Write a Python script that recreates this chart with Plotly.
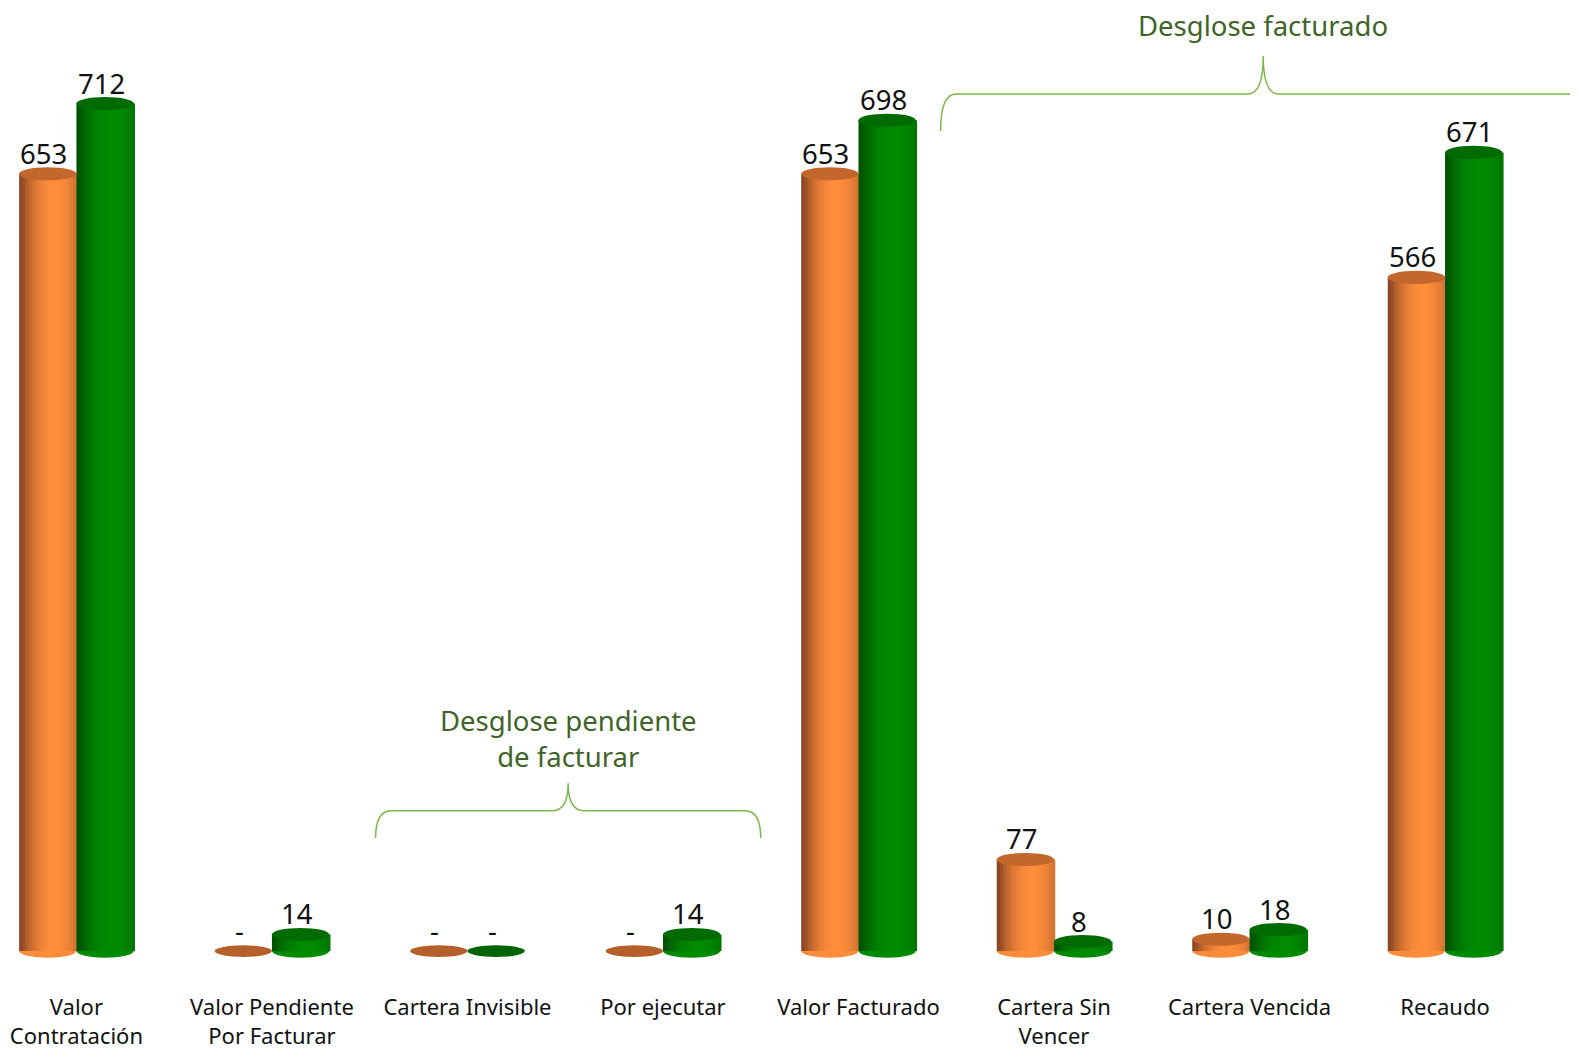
import plotly.graph_objects as go
import math

categories = ["Valor<br>Contratación", "Valor Pendiente<br>Por Facturar", "Cartera Invisible",
              "Por ejecutar", "Valor Facturado", "Cartera Sin<br>Vencer", "Cartera Vencida", "Recaudo"]
serie_naranja = [653, 0, 0, 0, 653, 77, 10, 566]
serie_verde = [712, 14, 0, 14, 698, 8, 18, 671]

FONT = "Noto Sans"
W = 0.293          # cylinder width (x units)
N = 18             # shading slices
EH = 5.5           # ellipse half height (y units)

series = [
    dict(vals=serie_naranja, side=-1, bright=(255, 142, 60), dark=(140, 72, 36),
         top="#c4672d", zero="#b5602a"),
    dict(vals=serie_verde, side=0, bright=(0, 140, 0), dark=(0, 84, 0),
         top="#006b00", zero="#006400"),
]

def shade(s, t):
    inten = max(0.0, math.cos((t - 0.62) * math.pi * 0.9))
    inten = inten ** 0.7
    c = [int(s["dark"][j] + (s["bright"][j] - s["dark"][j]) * inten) for j in range(3)]
    return "rgb(%d,%d,%d)" % tuple(c)

x = list(range(len(categories)))
fig = go.Figure()
shapes = []
annotations = []

for s in series:
    left = s["side"] * W
    for k in range(N):
        t = (k + 0.5) / N
        fig.add_trace(go.Bar(
            x=x, y=s["vals"], width=W / N * 1.4, offset=left + k * W / N,
            marker=dict(color=shade(s, t), line=dict(width=0)),
            showlegend=False, hoverinfo="skip"))
    for i, v in enumerate(s["vals"]):
        x0, x1 = i + left, i + left + W
        if v > 0:
            shapes.append(dict(type="circle", xref="x", yref="y", x0=x0, x1=x1,
                               y0=-EH, y1=EH, fillcolor=shade(s, 0.55),
                               line=dict(width=0), layer="below"))
            shapes.append(dict(type="circle", xref="x", yref="y", x0=x0, x1=x1,
                               y0=v - EH, y1=v + EH, fillcolor=s["top"],
                               line=dict(width=0), layer="above"))
        else:
            shapes.append(dict(type="circle", xref="x", yref="y", x0=x0, x1=x1,
                               y0=-EH * 0.9, y1=EH * 0.9, fillcolor=s["zero"],
                               line=dict(width=0), layer="above"))
        annotations.append(dict(x=(x0 + x1) / 2 - 0.02, y=v, xref="x", yref="y",
                                text=str(v) if v > 0 else "-", showarrow=False,
                                yanchor="bottom", yshift=0,
                                font=dict(family=FONT, size=27.5, color="#111111")))

def brace(xl, xr, xm, y_line, y_arm, y_peak, dx=0.08):
    return ("M %f,%f Q %f,%f %f,%f L %f,%f Q %f,%f %f,%f Q %f,%f %f,%f L %f,%f Q %f,%f %f,%f" % (
        xl, y_arm, xl, y_line, xl + dx, y_line,
        xm - dx, y_line, xm, y_line, xm, y_peak,
        xm, y_line, xm + dx, y_line,
        xr - dx, y_line, xr, y_line, xr, y_arm))

brace_color = "#7cb84a"
shapes.append(dict(type="path", xref="x", yref="y", path=brace(1.53, 3.5, 2.515, 118, 95, 141),
                   line=dict(color=brace_color, width=1.5)))
shapes.append(dict(type="path", xref="x", yref="y", path=brace(4.42, 7.8, 6.07, 720, 689, 752),
                   line=dict(color=brace_color, width=1.5)))

annotations.append(dict(x=2.515, y=179, xref="x", yref="y", text="Desglose pendiente<br>de facturar",
                        showarrow=False, font=dict(family=FONT, size=27.5, color="#3f6428")))
annotations.append(dict(x=6.07, y=778, xref="x", yref="y", text="Desglose facturado",
                        showarrow=False, font=dict(family=FONT, size=27.5, color="#3f6428")))

fig.update_layout(
    width=1578, height=1050, barmode="overlay",
    paper_bgcolor="white", plot_bgcolor="white",
    margin=dict(l=0, r=0, t=0, b=95),
    shapes=shapes, annotations=annotations, showlegend=False,
    xaxis=dict(range=[-0.35, 7.721], tickvals=x, ticktext=categories,
               showgrid=False, zeroline=False, showline=False,
               ticks="outside", ticklen=25, tickcolor="rgba(0,0,0,0)",
               tickfont=dict(family=FONT, size=22, color="#111111")),
    yaxis=dict(range=[-10, 792.3], visible=False, showgrid=False, zeroline=False),
)

fig.write_html("out.html")
